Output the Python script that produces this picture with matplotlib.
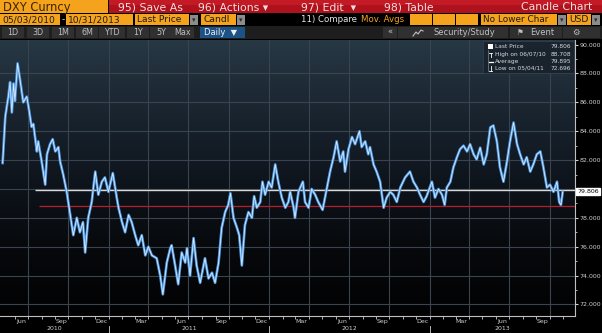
import numpy as np
import pandas as pd
import matplotlib
matplotlib.use("Agg")
import matplotlib.pyplot as plt
import matplotlib.dates as mdates
import matplotlib.transforms as mtransforms
from matplotlib.colors import LinearSegmentedColormap
from matplotlib.patches import Rectangle

# DXY close (days counted from the first session)
start_date = pd.Timestamp("2010-05-03")
day_offsets = [
    1, 7, 14, 18, 22, 26, 29, 35, 41, 48, 56, 60, 67, 71, 79, 82, 90, 98, 102, 109,
    115, 121, 128, 132, 139, 147, 155, 162, 170, 177, 184, 189, 196, 204, 212, 219,
    227, 234, 242, 252, 261, 265, 273, 280, 288, 295, 303, 310, 318, 326, 333, 341,
    352, 360, 366, 375, 383, 386, 394, 401, 409, 417, 421, 428, 436, 443, 451, 462,
    470, 478, 485, 493, 500, 508, 515, 520, 527, 535, 540, 546, 553, 561, 569, 574,
    580, 588, 593, 599, 607, 614, 622, 629, 637, 645, 652, 656, 664, 667, 675, 685,
    690, 698, 705, 713, 720, 730, 738, 747, 755, 762, 770, 777, 781, 789, 797, 804,
    814, 819, 827, 834, 838, 846, 853, 861, 869, 876, 884, 891, 899, 907, 918, 929,
    937, 945, 952, 960, 967, 979, 986, 994, 1002, 1008, 1013, 1021, 1028, 1036, 1043,
    1051, 1059, 1066, 1074, 1081, 1089, 1097, 1104, 1112, 1119, 1127, 1134, 1142,
    1150, 1157, 1165, 1173, 1180, 1188, 1195, 1203, 1210, 1218, 1226, 1233, 1241,
    1248, 1256, 1264, 1269, 1273, 1277]
dxy_close = [
    81.8, 85.0, 86.4, 87.4, 85.3, 87.3, 86.1, 88.7, 87.5, 86.0, 86.4, 85.7, 84.3, 84.5,
    82.6, 83.3, 81.9, 80.3, 82.4, 83.1, 83.45, 82.6, 82.9, 81.9, 81.0, 79.8, 78.2, 76.8,
    78.0, 77.0, 77.7, 75.6, 78.0, 79.1, 81.2, 79.6, 80.5, 80.8, 79.8, 81.1, 79.4, 78.7,
    77.7, 77.0, 78.2, 77.7, 76.8, 76.1, 76.8, 75.4, 76.0, 75.4, 75.2, 74.0, 72.7, 74.9,
    75.9, 76.1, 74.7, 73.4, 75.6, 74.9, 75.9, 74.0, 76.6, 74.7, 73.5, 75.2, 73.8, 74.2,
    73.5, 74.9, 77.3, 78.4, 78.9, 79.7, 78.0, 77.3, 76.8, 74.7, 77.5, 78.4, 78.0, 79.5,
    78.7, 79.1, 80.5, 79.6, 80.5, 80.1, 81.7, 80.5, 79.4, 78.7, 79.1, 79.8, 78.7, 78.0,
    79.8, 80.5, 79.1, 78.7, 80.0, 79.6, 79.1, 78.55, 79.8, 81.2, 82.2, 83.3, 81.9, 82.6,
    81.2, 82.75, 83.6, 83.1, 84.0, 82.9, 83.3, 82.4, 82.9, 81.7, 81.2, 80.5, 78.7, 79.4,
    79.8, 79.6, 79.1, 80.1, 80.8, 81.2, 80.5, 80.1, 79.6, 79.1, 79.5, 80.5, 79.4, 80.0,
    79.6, 78.9, 80.1, 80.5, 81.5, 82.2, 82.75, 83.0, 82.6, 83.1, 82.4, 82.05, 82.86,
    81.7, 82.4, 84.26, 84.4, 83.3, 81.5, 80.5, 81.9, 83.3, 84.6, 83.1, 82.4, 81.7, 82.2,
    81.2, 81.7, 82.4, 82.6, 81.5, 80.1, 80.3, 79.8, 80.5, 79.1, 78.9, 79.8]

last_price = 79.806
high_price = 88.708
avg_price = 79.895
low_price = 72.696
support_level = 78.83

legend_rows = [("Last Price", "79.806"), ("High on 06/07/10", "88.708"),
               ("Average", "79.895"), ("Low on 05/04/11", "72.696")]
quarter_months = ["Jun", "Sep", "Dec", "Mar"]
period_buttons = ["1D", "3D", "1M", "6M", "YTD", "1Y", "5Y", "Max"]

dates = start_date + pd.to_timedelta(day_offsets, unit="D")

W, H = 602, 333
fig = plt.figure(figsize=(W / 100, H / 100), dpi=100, facecolor="black")

# chart panel (pixel box: x 0..575, y 40..316)
ylo, yhi = 71.2, 90.32
ax = fig.add_axes([0, (H - 316) / H, 575 / W, (316 - 40) / H])
x0 = start_date - pd.Timedelta(days=5)
x1 = start_date + pd.Timedelta(days=1305)
ax.set_xlim(x0, x1)
ax.set_ylim(ylo, yhi)

# background gradient
grad = np.linspace(0, 1, 256).reshape(-1, 1)
cmap = LinearSegmentedColormap.from_list(
    "bbg", ["#273845", "#1a2530", "#0f151d", "#07090c", "#020203"])
ax.imshow(grad, extent=[mdates.date2num(x0), mdates.date2num(x1), ylo, yhi],
          aspect="auto", cmap=cmap, origin="upper", zorder=0)

# grid
for v in range(72, 90, 2):
    ax.axhline(v, color="#3a444e", lw=0.8, zorder=1)
for q in pd.date_range("2010-07-01", "2013-10-01", freq="3MS"):
    ax.axvline(q, color="#3a444e", lw=0.8, zorder=1)

# average + support lines
ax.hlines(avg_price, start_date + pd.Timedelta(days=75), x1, color="#d9d9d9", lw=1.0, zorder=2)
ax.hlines(support_level, start_date + pd.Timedelta(days=84), x1, color="#b3202c", lw=0.9, zorder=2)

# price series
ax.plot(dates, dxy_close, color="#4b98e4", lw=1.9, zorder=3)
ax.plot(dates, dxy_close, color="white", lw=0.55, alpha=0.85, zorder=4)

# right axis
yt = list(range(72, 91, 2))
ax.yaxis.tick_right()
ax.set_yticks(yt)
ax.set_yticklabels(["" if v == 80 else f"{v:.3f}" for v in yt])
ax.set_yticks(range(73, 91, 2), minor=True)
ax.tick_params(axis="y", which="major", colors="#cfcfcf", labelsize=4.5, length=2.5, width=0.8, pad=0.8)
ax.tick_params(axis="y", which="minor", colors="#cfcfcf", length=1.5, width=0.6)

# bottom axis: month ticks, quarter labels mid-month
ax.set_xticks(pd.date_range("2010-06-01", "2013-11-01", freq="MS"), minor=True)
mids = [d + pd.Timedelta(days=14) for d in pd.date_range("2010-06-01", "2013-09-01", freq="3MS")]
ax.set_xticks(mids)
ax.set_xticklabels([quarter_months[i % 4] for i in range(len(mids))])
ax.tick_params(axis="x", which="major", colors="#cfcfcf", labelsize=4.5, length=0, pad=2)
ax.tick_params(axis="x", which="minor", colors="#cfcfcf", length=2, width=0.6)

trans = mtransforms.blended_transform_factory(ax.transData, ax.transAxes)
for yr in [2010, 2011, 2012, 2013]:
    a = max(pd.Timestamp(f"{yr}-01-01"), x0)
    b = min(pd.Timestamp(f"{yr + 1}-01-01"), x1)
    ax.text(a + (b - a) / 2, -0.036, str(yr), transform=trans, color="#cfcfcf",
            fontsize=4.5, ha="center", va="top")
    if yr > 2010:
        ax.plot([pd.Timestamp(f"{yr}-01-01")] * 2, [-0.035, -0.06], transform=trans,
                color="#cfcfcf", lw=0.6, clip_on=False)

for s in ["top", "left"]:
    ax.spines[s].set_visible(False)
for s in ["right", "bottom"]:
    ax.spines[s].set_color("#bfbfbf")
    ax.spines[s].set_linewidth(0.8)

# last price tag
ax.text(1.004, (last_price - ylo) / (yhi - ylo), f"{last_price:.3f}", transform=ax.transAxes,
        fontsize=4.5, color="black", ha="left", va="center",
        bbox=dict(boxstyle="square,pad=0.15", fc="white", ec="white"), zorder=6)

# ---- overlay in pixel coordinates for the terminal chrome ----
ov = fig.add_axes([0, 0, 1, 1], zorder=10)
ov.set_xlim(0, W)
ov.set_ylim(H, 0)
ov.axis("off")
ov.patch.set_alpha(0)

amber = "#f5a21c"

def box(x, y, w, h, fc, ec="none", lw=0.0, alpha=1.0):
    ov.add_patch(Rectangle((x, y), w, h, fc=fc, ec=ec, lw=lw, alpha=alpha))

def dropdown(x, y):
    box(x, y, 8, 10, "#8c8c8c")
    ov.text(x + 4, y + 5.3, "\u25be", fontsize=5, color="#2a2a2a", ha="center", va="center")

# row 1
box(0, 0, 108, 13, amber)
ov.text(3, 7, "DXY Curncy", fontsize=8.3, color="#3a2600", va="center")
box(109, 0, 493, 13, "#b0121d")
box(109, 0, 493, 5, "#c41a26")
ov.text(118, 7, "95) Save As", fontsize=7.8, color="#f5dede", va="center")
ov.text(198, 7, "96) Actions \u25be", fontsize=7.8, color="#f5dede", va="center")
ov.text(301, 7, "97) Edit  \u25be", fontsize=7.8, color="#f5dede", va="center")
ov.text(384, 7, "98) Table", fontsize=7.8, color="#f5dede", va="center")
ov.text(592, 7, "Candle Chart", fontsize=7.8, color="#f5dede", va="center", ha="right")

# row 2
box(0, 14, 60, 11, amber)
ov.text(2, 19.8, "05/03/2010", fontsize=6.6, color="#1a1a1a", va="center")
ov.text(63, 19.5, "-", fontsize=6.6, color="#e0e0e0", va="center", ha="center")
box(66, 14, 67, 11, amber)
ov.text(68, 19.8, "10/31/2013", fontsize=6.6, color="#1a1a1a", va="center")
box(135, 14, 54, 11, amber)
ov.text(137, 19.8, "Last Price", fontsize=6.6, color="#1a1a1a", va="center")
dropdown(190, 14.5)
box(201, 14, 35, 11, amber)
ov.text(203, 19.8, "Candl", fontsize=6.6, color="#1a1a1a", va="center")
dropdown(237, 14.5)
ov.text(301, 19.8, "11) Compare", fontsize=6.2, color="#e6e6e6", va="center")
ov.text(361, 19.8, "Mov. Avgs", fontsize=6.2, color=amber, va="center")
for bx in [410, 433, 456]:
    box(bx, 14, 22, 11, amber)
box(481, 14, 76, 11, amber)
ov.text(483, 19.8, "No Lower Char", fontsize=6.4, color="#1a1a1a", va="center")
dropdown(558, 14.5)
box(567, 14, 24, 11, amber)
ov.text(569, 19.8, "USD", fontsize=6.6, color="#1a1a1a", va="center")
dropdown(592, 14.5)

# row 3
box(0, 26, W, 13, "#1e1e1e")
bx = [2, 27, 52, 76, 99, 127, 150, 172]
for i, lab in enumerate(period_buttons):
    box(bx[i], 27, 22 if lab != "YTD" else 26, 11, "#303030")
    ov.text(bx[i] + (11 if lab != "YTD" else 13), 32.8, lab, fontsize=5.8,
            color="#c0c0c0", ha="center", va="center")
box(200, 27, 45, 11, "#1d5286")
ov.text(204, 32.8, "Daily  \u25bc", fontsize=6, color="#f0f0f0", va="center")
box(383, 27, 14, 11, "#303030")
ov.text(390, 32.5, "\u00ab", fontsize=6, color="#c0c0c0", ha="center", va="center")
box(398, 27, 110, 11, "#303030")
ov.plot([413, 416, 418, 421, 423], [36, 32, 34, 30, 31], color="#c0c0c0", lw=0.8)
ov.text(433, 32.8, "Security/Study", fontsize=6, color="#c0c0c0", va="center")
box(510, 27, 52, 11, "#303030")
ov.text(517, 32.8, "\u2691", fontsize=5.5, color="#c0c0c0", va="center")
ov.text(530, 32.8, "Event", fontsize=6, color="#c0c0c0", va="center")
box(563, 27, 37, 11, "#303030")
ov.text(576, 32.8, "\u2699", fontsize=6, color="#c0c0c0", va="center", ha="center")

# legend box
box(483, 41, 91, 32, "#18222c", ec="#35414d", lw=0.6, alpha=0.9)
ly = [47, 54.5, 61.5, 68.5]
for (lab, val), y in zip(legend_rows, ly):
    ov.text(495, y, lab, fontsize=4.2, color="#d8d8d8", va="center")
    ov.text(571, y, val, fontsize=4.2, color="#d8d8d8", va="center", ha="right")
box(487.5, 44, 5, 5, "white")
ov.plot([488, 488], [50, 71], color="#9aa3ab", lw=0.4)
ov.plot([489, 492], [52.5, 52.5], color="white", lw=0.6)
ov.plot([490.5, 490.5], [52.5, 57], color="white", lw=0.6)
ov.plot([488.5, 492.5], [61.5, 61.5], color="white", lw=0.9)
ov.plot([489, 492], [71, 71], color="white", lw=0.6)
ov.plot([490.5, 490.5], [66, 71], color="white", lw=0.6)

fig.savefig("out.png", dpi=100, facecolor="black")
